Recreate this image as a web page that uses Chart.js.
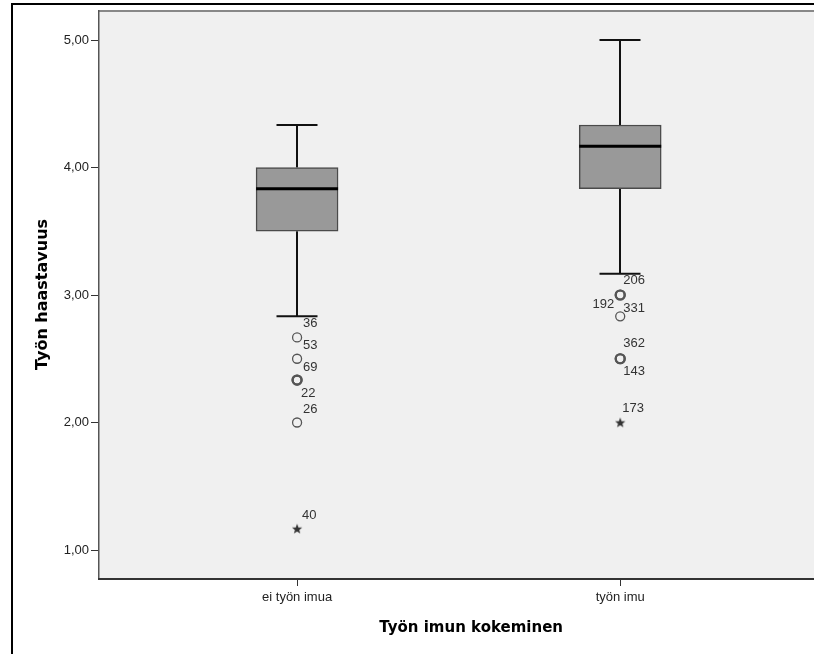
<!DOCTYPE html>
<html>
<head>
<meta charset="utf-8">
<script src="https://cdn.jsdelivr.net/npm/chart.js@4.4.1/dist/chart.umd.min.js"></script>
<style>
  html, body { margin: 0; padding: 0; background: #fff; overflow: hidden; width: 814px; height: 654px; }
  #wrap { position: relative; width: 850px; height: 654px; }
</style>
</head>
<body>
<div id="wrap"><canvas id="c"></canvas></div>
<script>
// Työn haastavuus by työn imun kokeminen (box plot)
const categories = ['ei työn imua', 'työn imu'];
const whiskerLow = [2.833, 3.167];
const q1 = [3.5, 3.833];
const median = [3.833, 4.167];
const q3 = [4.0, 4.333];
const whiskerHigh = [4.333, 5.0];
const outlierValues = [[2.667, 2.5, 2.333, 2.333, 2.0], [3.0, 3.0, 2.833, 2.5, 2.5]];
const outlierIds = [['36', '53', '69', '22', '26'], ['206', '192', '331', '362', '143']];
const extremeValues = [[1.167], [2.0]];
const extremeIds = [['40'], ['173']];
const yTickValues = [1, 2, 3, 4, 5];
const yTickLabels = ['1,00', '2,00', '3,00', '4,00', '5,00'];

// Case-number label placement (pixel offsets from the point)
const outlierLabelPlacement = [
  [{dx: 6, dy: -14}, {dx: 6, dy: -13}, {dx: 6, dy: -13}, {dx: 4, dy: 13}, {dx: 6, dy: -13}],
  [{dx: 3, dy: -15}, {dx: -6, dy: 9, align: 'right'}, {dx: 3, dy: -8}, {dx: 3, dy: -15}, {dx: 3, dy: 13}]
];
const extremeLabelPlacement = [[{dx: 5, dy: -13}], [{dx: 2, dy: -14}]];

const FONT = "'Liberation Sans', Arial, sans-serif";
const TITLE_FONT = "'DejaVu Sans', Verdana, sans-serif";

// small filled star marker for extreme values
function makeStar() {
  const s = 12, c = document.createElement('canvas');
  c.width = s; c.height = s;
  const g = c.getContext('2d');
  g.fillStyle = '#333';
  g.beginPath();
  for (let i = 0; i < 10; i++) {
    const r = i % 2 === 0 ? 5.4 : 2.3;
    const a = -Math.PI / 2 + i * Math.PI / 5;
    const px = s / 2 + r * Math.cos(a), py = s / 2 + 0.5 + r * Math.sin(a);
    i === 0 ? g.moveTo(px, py) : g.lineTo(px, py);
  }
  g.closePath();
  g.fill();
  return c;
}
const starMarker = makeStar();

function pointsFor(valuesByCat, idsByCat) {
  const pts = [];
  valuesByCat.forEach((vals, i) => {
    vals.forEach((v, j) => {
      const dup = vals.filter(w => w === v).length;
      pts.push({x: i + 1, y: v, id: idsByCat[i][j], cat: i, idx: j, dup: dup});
    });
  });
  return pts;
}

const boxPlotPlugin = {
  id: 'boxPlot',
  beforeDraw(chart) {
    const {ctx, chartArea: a} = chart;
    ctx.save();
    ctx.fillStyle = '#ffffff';
    ctx.fillRect(0, 0, chart.width, chart.height);
    ctx.fillStyle = '#f0f0f0';
    ctx.fillRect(a.left, a.top, a.right - a.left, a.bottom - a.top);
    // outer frame
    ctx.fillStyle = '#000';
    ctx.fillRect(11, 3, 2, chart.height);
    ctx.fillRect(11, 3, chart.width, 2);
    ctx.restore();
  },
  beforeDatasetsDraw(chart) {
    const {ctx, scales: {x, y}} = chart;
    ctx.save();
    ctx.strokeStyle = '#111';
    ctx.lineWidth = 2;
    categories.forEach((c, i) => {
      const px = Math.round(x.getPixelForValue(i + 1));
      const cap = 20.5;
      const segs = [[whiskerLow[i], q1[i]], [q3[i], whiskerHigh[i]]];
      segs.forEach(([a, b]) => {
        ctx.beginPath();
        ctx.moveTo(px, y.getPixelForValue(a));
        ctx.lineTo(px, y.getPixelForValue(b));
        ctx.stroke();
      });
      [whiskerLow[i], whiskerHigh[i]].forEach(v => {
        const py = y.getPixelForValue(v);
        ctx.beginPath();
        ctx.moveTo(px - cap, py);
        ctx.lineTo(px + cap, py);
        ctx.stroke();
      });
    });
    ctx.restore();
  },
  afterDatasetsDraw(chart) {
    const {ctx, chartArea: a, scales: {y}} = chart;
    ctx.save();
    // medians
    const boxMeta = chart.getDatasetMeta(0);
    ctx.strokeStyle = '#000';
    ctx.lineWidth = 3;
    categories.forEach((c, i) => {
      const bar = boxMeta.data[i];
      const half = bar.width / 2;
      const py = y.getPixelForValue(median[i]);
      ctx.beginPath();
      ctx.moveTo(bar.x - half, py);
      ctx.lineTo(bar.x + half, py);
      ctx.stroke();
    });
    // plot frame
    ctx.fillStyle = '#888';
    ctx.fillRect(a.left, a.top - 1, a.right - a.left, 2);
    ctx.fillStyle = '#555';
    ctx.fillRect(a.left - 1, a.top - 1, 1.5, a.bottom - a.top + 2);
    ctx.fillStyle = '#333';
    ctx.fillRect(a.left - 1, a.bottom, a.right - a.left + 1, 2);
    // case labels
    ctx.font = '13px ' + FONT;
    ctx.fillStyle = '#333';
    ctx.textBaseline = 'middle';
    [[1, outlierLabelPlacement], [2, extremeLabelPlacement]].forEach(([di, placement]) => {
      const meta = chart.getDatasetMeta(di);
      meta.data.forEach((el, k) => {
        const raw = chart.data.datasets[di].data[k];
        const p = placement[raw.cat][raw.idx];
        ctx.textAlign = p.align || 'left';
        ctx.fillText(raw.id, el.x + p.dx, el.y + p.dy);
      });
    });
    ctx.restore();
  }
};

new Chart(document.getElementById('c'), {
  type: 'scatter',
  data: {
    datasets: [
      {
        type: 'bar',
        data: categories.map((c, i) => ({x: i + 1, y: [q1[i], q3[i]]})),
        backgroundColor: '#999999',
        borderColor: '#4a4a4a',
        borderWidth: 1.5,
        borderSkipped: false,
        barThickness: 82
      },
      {
        data: pointsFor(outlierValues, outlierIds),
        pointStyle: 'circle',
        pointRadius: 4.5,
        pointBackgroundColor: 'rgba(0,0,0,0)',
        pointBorderColor: '#555',
        pointBorderWidth: ctx => (ctx.raw && ctx.raw.dup > 1 ? 2.2 : 1.3)
      },
      {
        data: pointsFor(extremeValues, extremeIds),
        pointStyle: starMarker,
        pointRadius: 5
      }
    ]
  },
  options: {
    responsive: true,
    maintainAspectRatio: false,
    animation: false,
    events: [],
    layout: {padding: {top: 11, left: 0, right: 0, bottom: 0}},
    plugins: {legend: {display: false}, tooltip: {enabled: false}},
    scales: {
      x: {
        type: 'linear',
        offset: false,
        min: 1 - 198 / 323,
        max: 2 + 223 / 323,
        afterBuildTicks: s => { s.ticks = categories.map((c, i) => ({value: i + 1})); },
        afterFit: s => { s.height = 76; },
        grid: {offset: false, drawOnChartArea: false, drawTicks: true, tickLength: 8, tickColor: '#333', lineWidth: 1},
        border: {display: false},
        ticks: {
          callback: v => categories[v - 1],
          font: {family: FONT, size: 13},
          color: '#222',
          padding: 4,
          maxRotation: 0
        },
        title: {
          display: true,
          text: 'Työn imun kokeminen',
          font: {family: TITLE_FONT, size: 15, weight: 'bold'},
          color: '#000',
          padding: {top: 0, bottom: 17}
        }
      },
      y: {
        type: 'linear',
        min: 1 - 28 / 127.5,
        max: 5 + 29 / 127.5,
        afterBuildTicks: s => { s.ticks = yTickValues.map(v => ({value: v})); },
        afterFit: s => { s.width = 99; },
        grid: {drawOnChartArea: false, drawTicks: true, tickLength: 8, tickColor: '#333', lineWidth: 1},
        border: {display: false},
        ticks: {
          callback: v => yTickLabels[yTickValues.indexOf(v)],
          font: {family: FONT, size: 13},
          color: '#222',
          padding: 2
        },
        title: {
          display: true,
          text: 'Työn haastavuus',
          font: {family: TITLE_FONT, size: 16, weight: 'bold'},
          color: '#000',
          padding: {top: 33, bottom: 0}
        }
      }
    }
  },
  plugins: [boxPlotPlugin]
});
</script>
</body>
</html>
